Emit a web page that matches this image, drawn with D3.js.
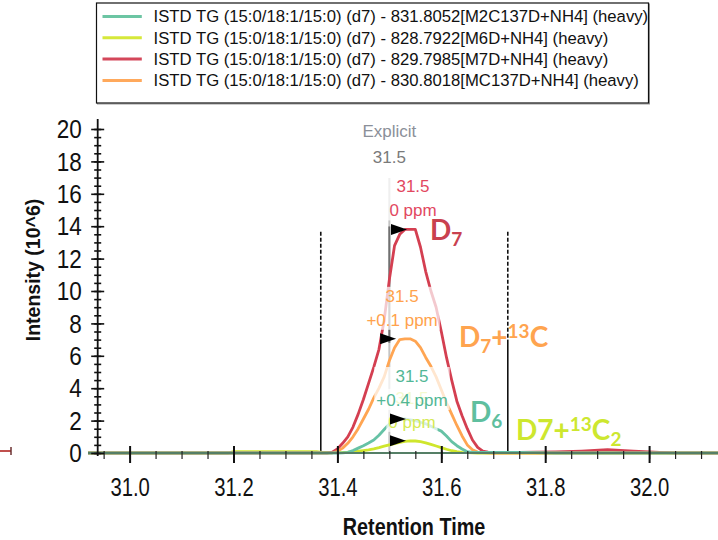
<!DOCTYPE html>
<html>
<head>
<meta charset="utf-8">
<script src="https://cdn.jsdelivr.net/npm/d3@7"></script>
<style>
  body { margin: 0; background: #fff; }
  svg { display: block; }
</style>
</head>
<body>
<svg id="chart" width="718" height="540"></svg>
<script>
// Retention times (min) shared by all four traces
const retentionTimes = [
  30.92, 31.00, 31.10, 31.19, 31.20, 31.30, 31.36, 31.37,
  31.38, 31.39, 31.40, 31.41, 31.42, 31.43, 31.44, 31.45, 31.46, 31.47, 31.48,
  31.49, 31.50, 31.51, 31.52, 31.53, 31.54, 31.55, 31.56, 31.57, 31.58, 31.59,
  31.60, 31.61, 31.62, 31.63, 31.64, 31.65, 31.66, 31.67, 31.68, 31.69, 31.70,
  31.72, 31.75, 31.78, 31.82, 31.87, 31.92, 31.97, 32.02, 32.06, 32.14
];

// Intensity (10^6) per trace
const m2c137d = [
  0, 0, 0, 0, 0, 0, 0, 0,
  0, 0, 0, 0.01, 0.04, 0.15, 0.3, 0.45, 0.62, 0.8, 1.1,
  1.45, 1.8, 2.0, 2.1, 2.1, 2.05, 2.0, 1.9, 1.8, 1.65, 1.5,
  1.35, 1.05, 0.7, 0.45, 0.25, 0.08, 0.04, 0.03, 0.03, 0.03, 0.03,
  0.03, 0.03, 0.02, 0, 0, 0, 0, 0, 0, 0
];
const m6d = [
  0, 0, 0, 0, 0.08, 0.08, 0.08, 0.04,
  0.03, 0.02, 0.02, 0.03, 0.05, 0.08, 0.11, 0.15, 0.19, 0.25, 0.33,
  0.42, 0.5, 0.58, 0.66, 0.72, 0.75, 0.74, 0.7, 0.63, 0.53, 0.43,
  0.33, 0.23, 0.14, 0.08, 0.04, 0.02, 0.01, 0, 0, 0, 0,
  0, 0, 0, 0, 0, 0, 0, 0, 0, 0
];
const m7d = [
  0, 0, 0, 0, 0, 0, 0, 0,
  0, 0.05, 0.25, 0.6, 1.0, 1.6, 2.4, 3.3, 4.3, 5.3, 6.4,
  8.2, 10.7, 12.8, 13.5, 13.8, 13.8, 13.8, 12.7, 11.2, 10.0, 9.0,
  7.5, 5.9, 4.5, 3.2, 2.3, 1.5, 0.8, 0.35, 0.12, 0.06, 0.04,
  0.04, 0.03, 0.05, 0.07, 0.12, 0.2, 0.12, 0.04, 0, 0
];
const mc137d = [
  0, 0, 0, 0, 0, 0, 0, 0,
  0, 0, 0.1, 0.3, 0.6, 1.0, 1.5, 2.1, 2.7, 3.4, 4.0,
  4.7, 5.7, 6.5, 7.0, 7.05, 7.05, 6.9, 6.5, 5.9, 5.35, 4.7,
  3.9, 3.1, 2.4, 1.7, 1.05, 0.5, 0.2, 0.06, 0.02, 0.01, 0,
  0, 0, 0, 0, 0, 0, 0, 0, 0, 0
];

const legendNames = [
  "ISTD TG (15:0/18:1/15:0) (d7) - 831.8052[M2C137D+NH4] (heavy)",
  "ISTD TG (15:0/18:1/15:0) (d7) - 828.7922[M6D+NH4] (heavy)",
  "ISTD TG (15:0/18:1/15:0) (d7) - 829.7985[M7D+NH4] (heavy)",
  "ISTD TG (15:0/18:1/15:0) (d7) - 830.8018[MC137D+NH4] (heavy)"
];

// peak apex retention time and mass error for each trace
const apexTimes = [31.532, 31.532, 31.534, 31.513];
const apexRtLabels = ["31.5", "31.5", "31.5", "31.5"];
const apexPpmLabels = ["+0.4 ppm", "0 ppm", "0 ppm", "+0.1 ppm"];

const explicitTime = 31.5;
const boundaryTimes = [31.368, 31.728];

const xTickValues = [31.0, 31.2, 31.4, 31.6, 31.8, 32.0];
const yTickValues = [0, 2, 4, 6, 8, 10, 12, 14, 16, 18, 20];

const series = [m2c137d, m6d, m7d, mc137d];
const lineColors = ["#66c2a5", "#cfe62c", "#d43f51", "#ffa552"];
const legendColors = ["#6cc5a3", "#d6e83a", "#d4475a", "#ffa95c"];
const labelColors = ["#52b796", "#d6ea55", "#e2485f", "#ffa24c"];

const svg = d3.select("#chart");

const x = d3.scaleLinear().domain([31.0, 32.0]).range([129.6, 649.1]);
const y = d3.scaleLinear().domain([0, 20]).range([453, 129]);
const axisX = 97.7;

// legend box
const legend = svg.append("g");
legend.append("rect")
  .attr("x", 97.5).attr("y", 4).attr("width", 552).attr("height", 100)
  .attr("fill", "none").attr("stroke", "#999").attr("stroke-width", 1);
legend.append("rect")
  .attr("x", 96.5).attr("y", 3).attr("width", 552).attr("height", 100)
  .attr("fill", "#fff").attr("stroke", "#111").attr("stroke-width", 1.2);
legendNames.forEach((name, i) => {
  let cy = 16.5 + i * 21.3;
  legend.append("line")
    .attr("x1", 102.5).attr("x2", 141.8).attr("y1", cy).attr("y2", cy)
    .attr("stroke", legendColors[i]).attr("stroke-width", 3);
  legend.append("text")
    .attr("x", 153.6).attr("y", cy + 5.8)
    .style("font-family", "'Liberation Sans', Arial, sans-serif")
    .style("font-size", "16.7px")
    .attr("fill", "#111")
    .text(name);
});

// explicit retention time marker
svg.append("text")
  .attr("x", x(explicitTime)).attr("y", 137)
  .attr("text-anchor", "middle")
  .style("font-family", "'Liberation Sans', Arial, sans-serif")
  .style("font-size", "17px")
  .attr("fill", "#8b9099")
  .text("Explicit");
svg.append("text")
  .attr("x", x(explicitTime)).attr("y", 163)
  .attr("text-anchor", "middle")
  .style("font-family", "'Liberation Sans', Arial, sans-serif")
  .style("font-size", "17px")
  .attr("fill", "#7a7a7a")
  .text(explicitTime.toFixed(1));
svg.append("line")
  .attr("x1", x(explicitTime)).attr("x2", x(explicitTime))
  .attr("y1", 178).attr("y2", y(0))
  .attr("stroke", "#c4c4c4").attr("stroke-width", 2);
svg.append("line")
  .attr("x1", x(explicitTime)).attr("x2", x(explicitTime))
  .attr("y1", y(d3.max(m7d)) - 3).attr("y2", y(d3.max(mc137d)) + 4)
  .attr("stroke", "#707070").attr("stroke-width", 2);

// integration boundaries: dashed upper part, solid lower part
boundaryTimes.forEach(t => {
  svg.append("line")
    .attr("x1", x(t)).attr("x2", x(t))
    .attr("y1", y(13.65)).attr("y2", y(7.0))
    .attr("stroke", "#111").attr("stroke-width", 1.6)
    .attr("stroke-dasharray", "4,2");
  svg.append("line")
    .attr("x1", x(t)).attr("x2", x(t))
    .attr("y1", y(7.0)).attr("y2", y(0))
    .attr("stroke", "#111").attr("stroke-width", 1.6);
});

// traces
let line = d3.line()
  .x((d, i) => x(retentionTimes[i]))
  .y(d => y(d));
[1, 2, 3, 0].forEach(k => {
  svg.append("path")
    .datum(series[k])
    .attr("d", line)
    .attr("fill", "none")
    .attr("stroke", lineColors[k])
    .attr("stroke-width", 2.8)
    .attr("stroke-linejoin", "round");
});

// x axis
svg.append("line")
  .attr("x1", 88).attr("x2", 718).attr("y1", y(0)).attr("y2", y(0))
  .attr("stroke", "#557f66").attr("stroke-width", 2);

let xMinor = svg.append("g")
  .attr("transform", "translate(0," + y(0) + ")")
  .call(d3.axisBottom(x).tickValues(d3.range(30.95, 32.13, 0.05)).tickFormat("").tickSizeOuter(0));
xMinor.select(".domain").remove();
xMinor.selectAll(".tick line").attr("y1", -2).attr("y2", 6).attr("stroke", "#222").attr("stroke-width", 1.2);

let xMajor = svg.append("g")
  .attr("transform", "translate(0," + y(0) + ")")
  .call(d3.axisBottom(x).tickValues(xTickValues).tickFormat(d3.format(".1f")).tickSizeOuter(0));
xMajor.select(".domain").remove();
xMajor.selectAll(".tick line").attr("y1", -7).attr("y2", 10).attr("stroke", "#111").attr("stroke-width", 2);
xMajor.selectAll(".tick text")
  .attr("y", 0).attr("dy", 0)
  .attr("transform", "translate(0,43) scale(0.78,1)")
  .style("font-family", "'Liberation Sans', Arial, sans-serif")
  .style("font-size", "26px")
  .attr("fill", "#111");

// y axis
svg.append("line")
  .attr("x1", axisX).attr("x2", axisX).attr("y1", 119).attr("y2", 456)
  .attr("stroke", "#111").attr("stroke-width", 1.8);

let yMinor = svg.append("g")
  .attr("transform", "translate(" + axisX + ",0)")
  .call(d3.axisLeft(y).tickValues(d3.range(0, 20.01, 0.5)).tickFormat("").tickSizeOuter(0));
yMinor.select(".domain").remove();
yMinor.selectAll(".tick line").attr("x1", 3.5).attr("x2", -3.5).attr("stroke", "#111").attr("stroke-width", 1.6);

let yMajor = svg.append("g")
  .attr("transform", "translate(" + axisX + ",0)")
  .call(d3.axisLeft(y).tickValues(yTickValues).tickSizeOuter(0));
yMajor.select(".domain").remove();
yMajor.selectAll(".tick line").attr("x1", 6.5).attr("x2", -6.5).attr("stroke", "#111").attr("stroke-width", 1.6);
yMajor.selectAll(".tick text")
  .attr("x", 0).attr("dy", "0.35em")
  .attr("transform", "translate(-16,0) scale(0.9,1)")
  .style("font-family", "'Liberation Sans', Arial, sans-serif")
  .style("font-size", "25px")
  .attr("fill", "#111");

// axis titles
svg.append("text")
  .attr("transform", "translate(414,535) scale(0.86,1)")
  .attr("text-anchor", "middle")
  .style("font-family", "'Liberation Sans', Arial, sans-serif")
  .style("font-size", "23px")
  .style("font-weight", "bold")
  .attr("fill", "#111")
  .text("Retention Time");
svg.append("text")
  .attr("transform", "translate(40,270) rotate(-90)")
  .attr("text-anchor", "middle")
  .style("font-family", "'Liberation Sans', Arial, sans-serif")
  .style("font-size", "19.5px")
  .style("font-weight", "bold")
  .attr("fill", "#111")
  .text("Intensity (10^6)");

// small clipped mark at the left edge
svg.append("line").attr("x1", 0).attr("x2", 11).attr("y1", 451).attr("y2", 451)
  .attr("stroke", "#c0504d").attr("stroke-width", 2);
svg.append("line").attr("x1", 11).attr("x2", 11).attr("y1", 447).attr("y2", 455)
  .attr("stroke", "#6b3030").attr("stroke-width", 1.5);

// apex labels with translucent background, then apex markers
[1, 0, 3, 2].forEach(k => {
  let ax = x(apexTimes[k]) + 6;
  let ay = y(d3.max(series[k]));
  let g = svg.append("g");
  let bg = g.append("rect").attr("fill", "#fff").attr("fill-opacity", 0.72);
  let t = g.append("text")
    .attr("text-anchor", "middle")
    .style("font-family", "'Liberation Sans', Arial, sans-serif")
    .style("font-size", "17px")
    .attr("fill", labelColors[k]);
  t.append("tspan").attr("x", ax).attr("y", ay - 37).text(apexRtLabels[k]);
  t.append("tspan").attr("x", ax).attr("y", ay - 13).text(apexPpmLabels[k]);
  let b = t.node().getBBox();
  bg.attr("x", b.x - 2).attr("y", b.y).attr("width", b.width + 4).attr("height", b.height);
});
series.forEach((s, k) => {
  let tx = x(apexTimes[k]);
  let ty = y(d3.max(s));
  svg.append("path")
    .attr("d", "M" + tx + "," + ty + "L" + (tx - 16) + "," + (ty - 5.5) + "L" + (tx - 16) + "," + (ty + 5.5) + "Z")
    .attr("fill", "#000");
});

// isotope annotations
function isoLabel(px, py, color, parts) {
  let t = svg.append("text")
    .attr("transform", "translate(" + px + "," + py + ")")
    .style("font-family", "Lato, 'DejaVu Sans', sans-serif")
    .style("font-weight", "bold")
    .style("font-size", "28px")
    .attr("fill", color);
  parts.forEach(p => {
    let shift = p[1] === "sub" ? 6 : p[1] === "sup" ? -9 : 0;
    t.append("tspan")
      .attr("y", shift)
      .style("font-size", shift ? "19px" : "28px")
      .text(p[0]);
  });
}
isoLabel(430, 240, "#c9414f", [["D"], ["7", "sub"]]);
isoLabel(459, 347, "#ffa44f", [["D"], ["7", "sub"], ["+"], ["13", "sup"], ["C"]]);
isoLabel(470, 422, "#5fbf9f", [["D"], ["6", "sub"]]);
isoLabel(516, 440, "#cde72f", [["D7"], ["+"], ["13", "sup"], ["C"], ["2", "sub"]]);
</script>
</body>
</html>
